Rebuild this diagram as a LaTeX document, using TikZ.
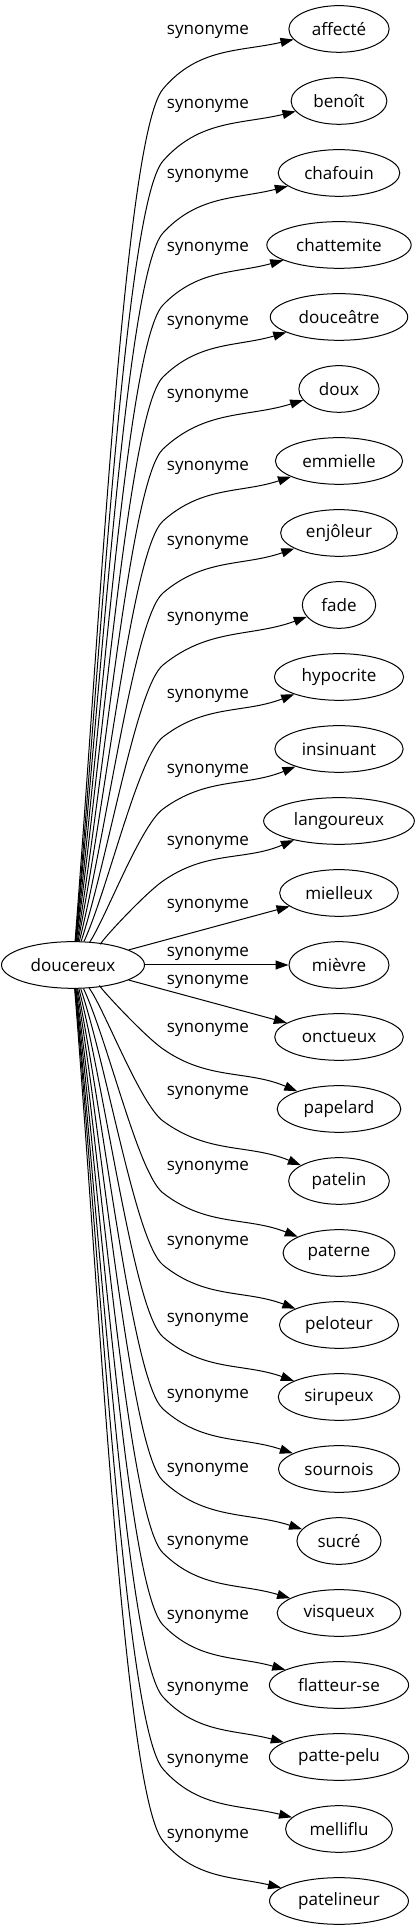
\documentclass[tikz,border=0pt]{standalone}
\usepackage{fontspec}
\setmainfont{Open Sans}
\usetikzlibrary{arrows.meta,shapes.geometric}
\tikzset{
  word/.style={draw, ellipse, line width=0.75pt, inner xsep=6.2pt, inner ysep=1pt,
    minimum width=54pt, minimum height=35pt},
  lbl/.style={inner sep=0pt},
  syn/.style={-{Triangle[length=9.75pt,width=6.75pt]}, line width=0.75pt},
}
\begin{document}
\begin{tikzpicture}[x=0.75pt, y=0.75pt, font=\fontsize{12.8}{15}\selectfont]
  \useasboundingbox (0,0) rectangle (417,1931);
  % Centre word
  \node[word] (doucereux) at (73,966) {doucereux};
  % Synonyms, one row every 72px, with their edge labels
  \foreach \i/\nm/\word/\ly in {0/affecte/affecté/32, 1/benoit/benoît/106,
      2/chafouin/chafouin/176, 3/chattemite/chattemite/249,
      4/douceatre/douceâtre/323, 5/doux/doux/396, 6/emmielle/emmielle/468,
      7/enjoleur/enjôleur/543, 8/fade/fade/619, 9/hypocrite/hypocrite/696,
      10/insinuant/insinuant/771, 11/langoureux/langoureux/843,
      12/mielleux/mielleux/906, 13/mievre/mièvre/954, 14/onctueux/onctueux/982,
      15/papelard/papelard/1030, 16/patelin/patelin/1093, 17/paterne/paterne/1168,
      18/peloteur/peloteur/1243, 19/sirupeux/sirupeux/1320,
      20/sournois/sournois/1396, 21/sucre/sucré/1470, 22/visqueux/visqueux/1543,
      23/flatteurse/flatteur-se/1617, 24/pattepelu/patte-pelu/1689,
      25/melliflu/melliflu/1761, 26/patelineur/patelineur/1836}{
    \pgfmathsetmacro{\yn}{1902-72*\i}
    \node[word] (\nm) at (339,\yn) {\word};
    \node[lbl] (l\nm) at (208,1931-\ly) {synonyme};
  }
  % Edges: rise out of the centre word to a bend left of the labels,
  % then sweep towards the synonym
  \foreach \i/\nm in {0/affecte, 1/benoit, 2/chafouin, 3/chattemite,
      4/douceatre, 5/doux, 6/emmielle, 7/enjoleur, 8/fade, 9/hypocrite,
      10/insinuant, 11/langoureux, 15/papelard, 16/patelin, 17/paterne,
      18/peloteur, 19/sirupeux, 20/sournois, 21/sucre, 22/visqueux,
      23/flatteurse, 24/pattepelu, 25/melliflu, 26/patelineur}{
    \pgfmathsetmacro{\yn}{1902-72*\i}
    \pgfmathsetmacro{\dd}{abs(966-\yn)}
    \pgfmathsetmacro{\fr}{(\dd-144)/792}
    \pgfmathsetmacro{\s}{\i<13 ? 1 : -1}
    \pgfmathsetmacro{\th}{atan((\dd/172)^1.5)}
    \pgfmathsetmacro{\an}{int(\s>0 ? \th : 360-\th)}
    \pgfmathsetmacro{\al}{35+15*\fr}
    \pgfmathsetmacro{\ph}{23-10*\fr}
    \pgfmathsetmacro{\la}{0.4*(\dd-80)}
    \pgfmathsetmacro{\lb}{25+35*\fr}
    \pgfmathsetmacro{\yb}{\yn-\s*60}
    \pgfmathsetmacro{\ax}{73+\la*cos(\th)}
    \pgfmathsetmacro{\ay}{966+\s*\la*sin(\th)}
    \pgfmathsetmacro{\bx}{163-\lb*cos(\al)}
    \pgfmathsetmacro{\by}{\yb-\s*\lb*sin(\al)}
    \pgfmathsetmacro{\ao}{\s>0 ? \al : 360-\al}
    \pgfmathsetmacro{\ai}{180+\s*\ph}
    \coordinate (b\nm) at (163,\yb);
    \draw[syn] (doucereux.\an) .. controls (\ax,\ay) and (\bx,\by) .. (b\nm)
      to[out=\ao, in=\ai] (\nm);
  }
  % The three nearest rows are joined straight
  \foreach \nm in {mielleux, mievre, onctueux}
    \draw[syn] (doucereux) -- (\nm);
\end{tikzpicture}
\end{document}
